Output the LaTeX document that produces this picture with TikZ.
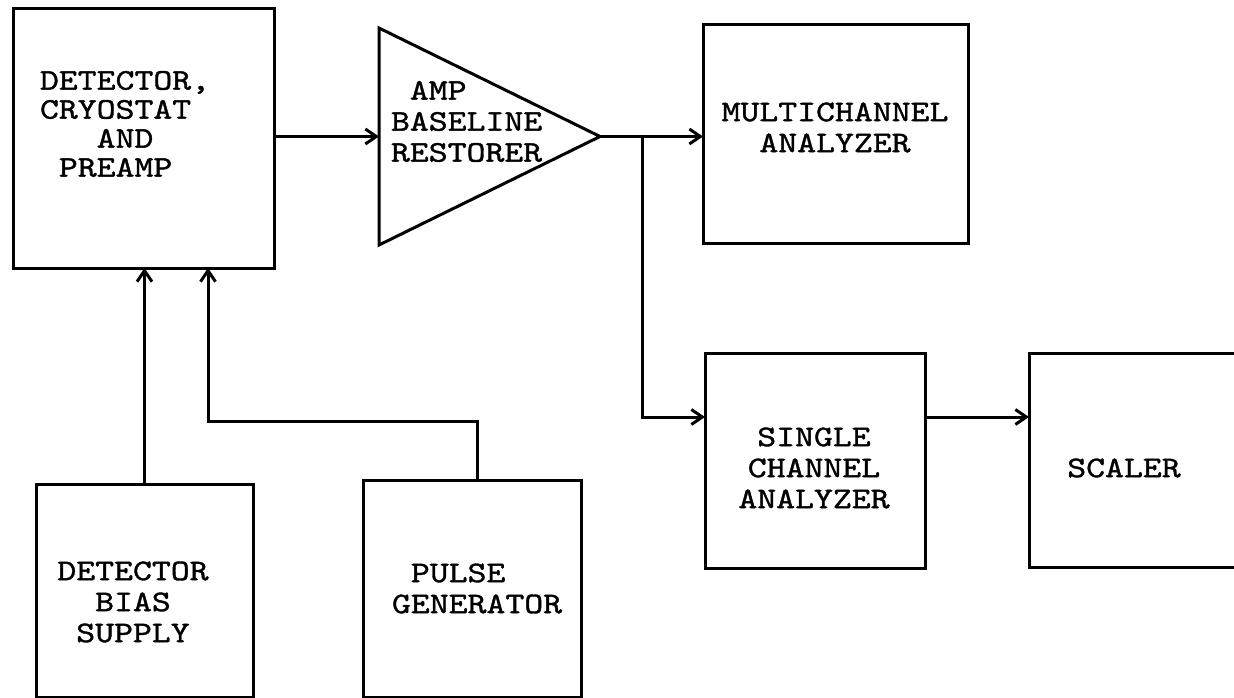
\documentclass[tikz,border=0pt]{standalone}
\usepackage{fontspec}
\newfontfamily\tw{lmmono10-regular.otf}[FakeStretch=1.2,FakeBold=1.2]
\usetikzlibrary{arrows.meta,calc}
\begin{document}
\begin{tikzpicture}[x=1pt,y=-1pt,
  box/.style={draw, line width=3pt, inner sep=0pt, outer sep=0pt},
  ghost/.style={inner sep=0pt, outer sep=0pt},
  txt/.style={font=\tw\fontsize{30}{31}\selectfont, inner sep=0pt, outer sep=0pt},
  arr/.style={line width=3pt, -{Straight Barb[length=11pt,width=15pt]}},
  wire/.style={line width=3pt}]
\useasboundingbox (0,0) rectangle (1234,698);
\clip (0,0) rectangle (1234,698);
% boxes
\node[box, minimum width=261pt, minimum height=259pt] (det) at (143.5,138.5) {};
\node[ghost, minimum width=221pt, minimum height=217pt] (amp) at (489.5,136.5) {};
\draw[line width=3pt, line join=miter] (amp.north west) -- (amp.east) -- (amp.south west) -- cycle;
\node[box, minimum width=265pt, minimum height=218pt] (mca) at (835.5,134) {};
\node[box, minimum width=220pt, minimum height=215pt] (sca) at (815,460.5) {};
\node[box, minimum width=221pt, minimum height=214pt] (scaler) at (1139.5,460) {};
\node[box, minimum width=217pt, minimum height=213pt] (bias) at (144.5,590.5) {};
\node[box, minimum width=218pt, minimum height=217pt] (pulse) at (472,588.5) {};
% texts
\node[txt, align=left, anchor=west, font=\tw\fontsize{30}{29}\selectfont] (det-t) at (40,124)
  {DETECTOR,\\CRYOSTAT\\\hphantom{XXX}AND\\\hphantom{X}PREAMP};
\node[txt, align=left, anchor=west] (amp-t) at (391,121.5)
  {\hphantom{X}AMP\\BASELINE\\RESTORER};
\node[txt, align=center] (mca-t) at (835,127.5) {MULTICHANNEL\\ANALYZER};
\node[txt, align=center] (sca-t) at (814,468) {SINGLE\\CHANNEL\\ANALYZER};
\node[txt] (scaler-t) at (1124,468) {SCALER};
\node[txt, align=center] (bias-t) at (133,602) {DETECTOR\\BIAS\\SUPPLY};
\node[txt, align=left, anchor=west] (pulse-t) at (392,588.5)
  {\hphantom{X}PULSE\\GENERATOR};
% connectors
\draw[arr] (det.east |- amp.west) -- (amp.west);
\draw[arr] (amp.east) -- (amp.east -| mca.west);
\coordinate (tap) at (642,136.5);
\draw[arr] (tap) |- ([yshift=43.5pt]sca.west);
\draw[arr] ([yshift=43.5pt]sca.east) -- ([yshift=43.5pt]sca.east -| scaler.west);
\draw[arr] (bias.north) -- (bias.north |- det.south);
\coordinate (pcorner) at (208,421);
\draw[arr] ([xshift=5pt]pulse.north) |- (pcorner) -- (pcorner |- det.south);
\end{tikzpicture}
\end{document}
